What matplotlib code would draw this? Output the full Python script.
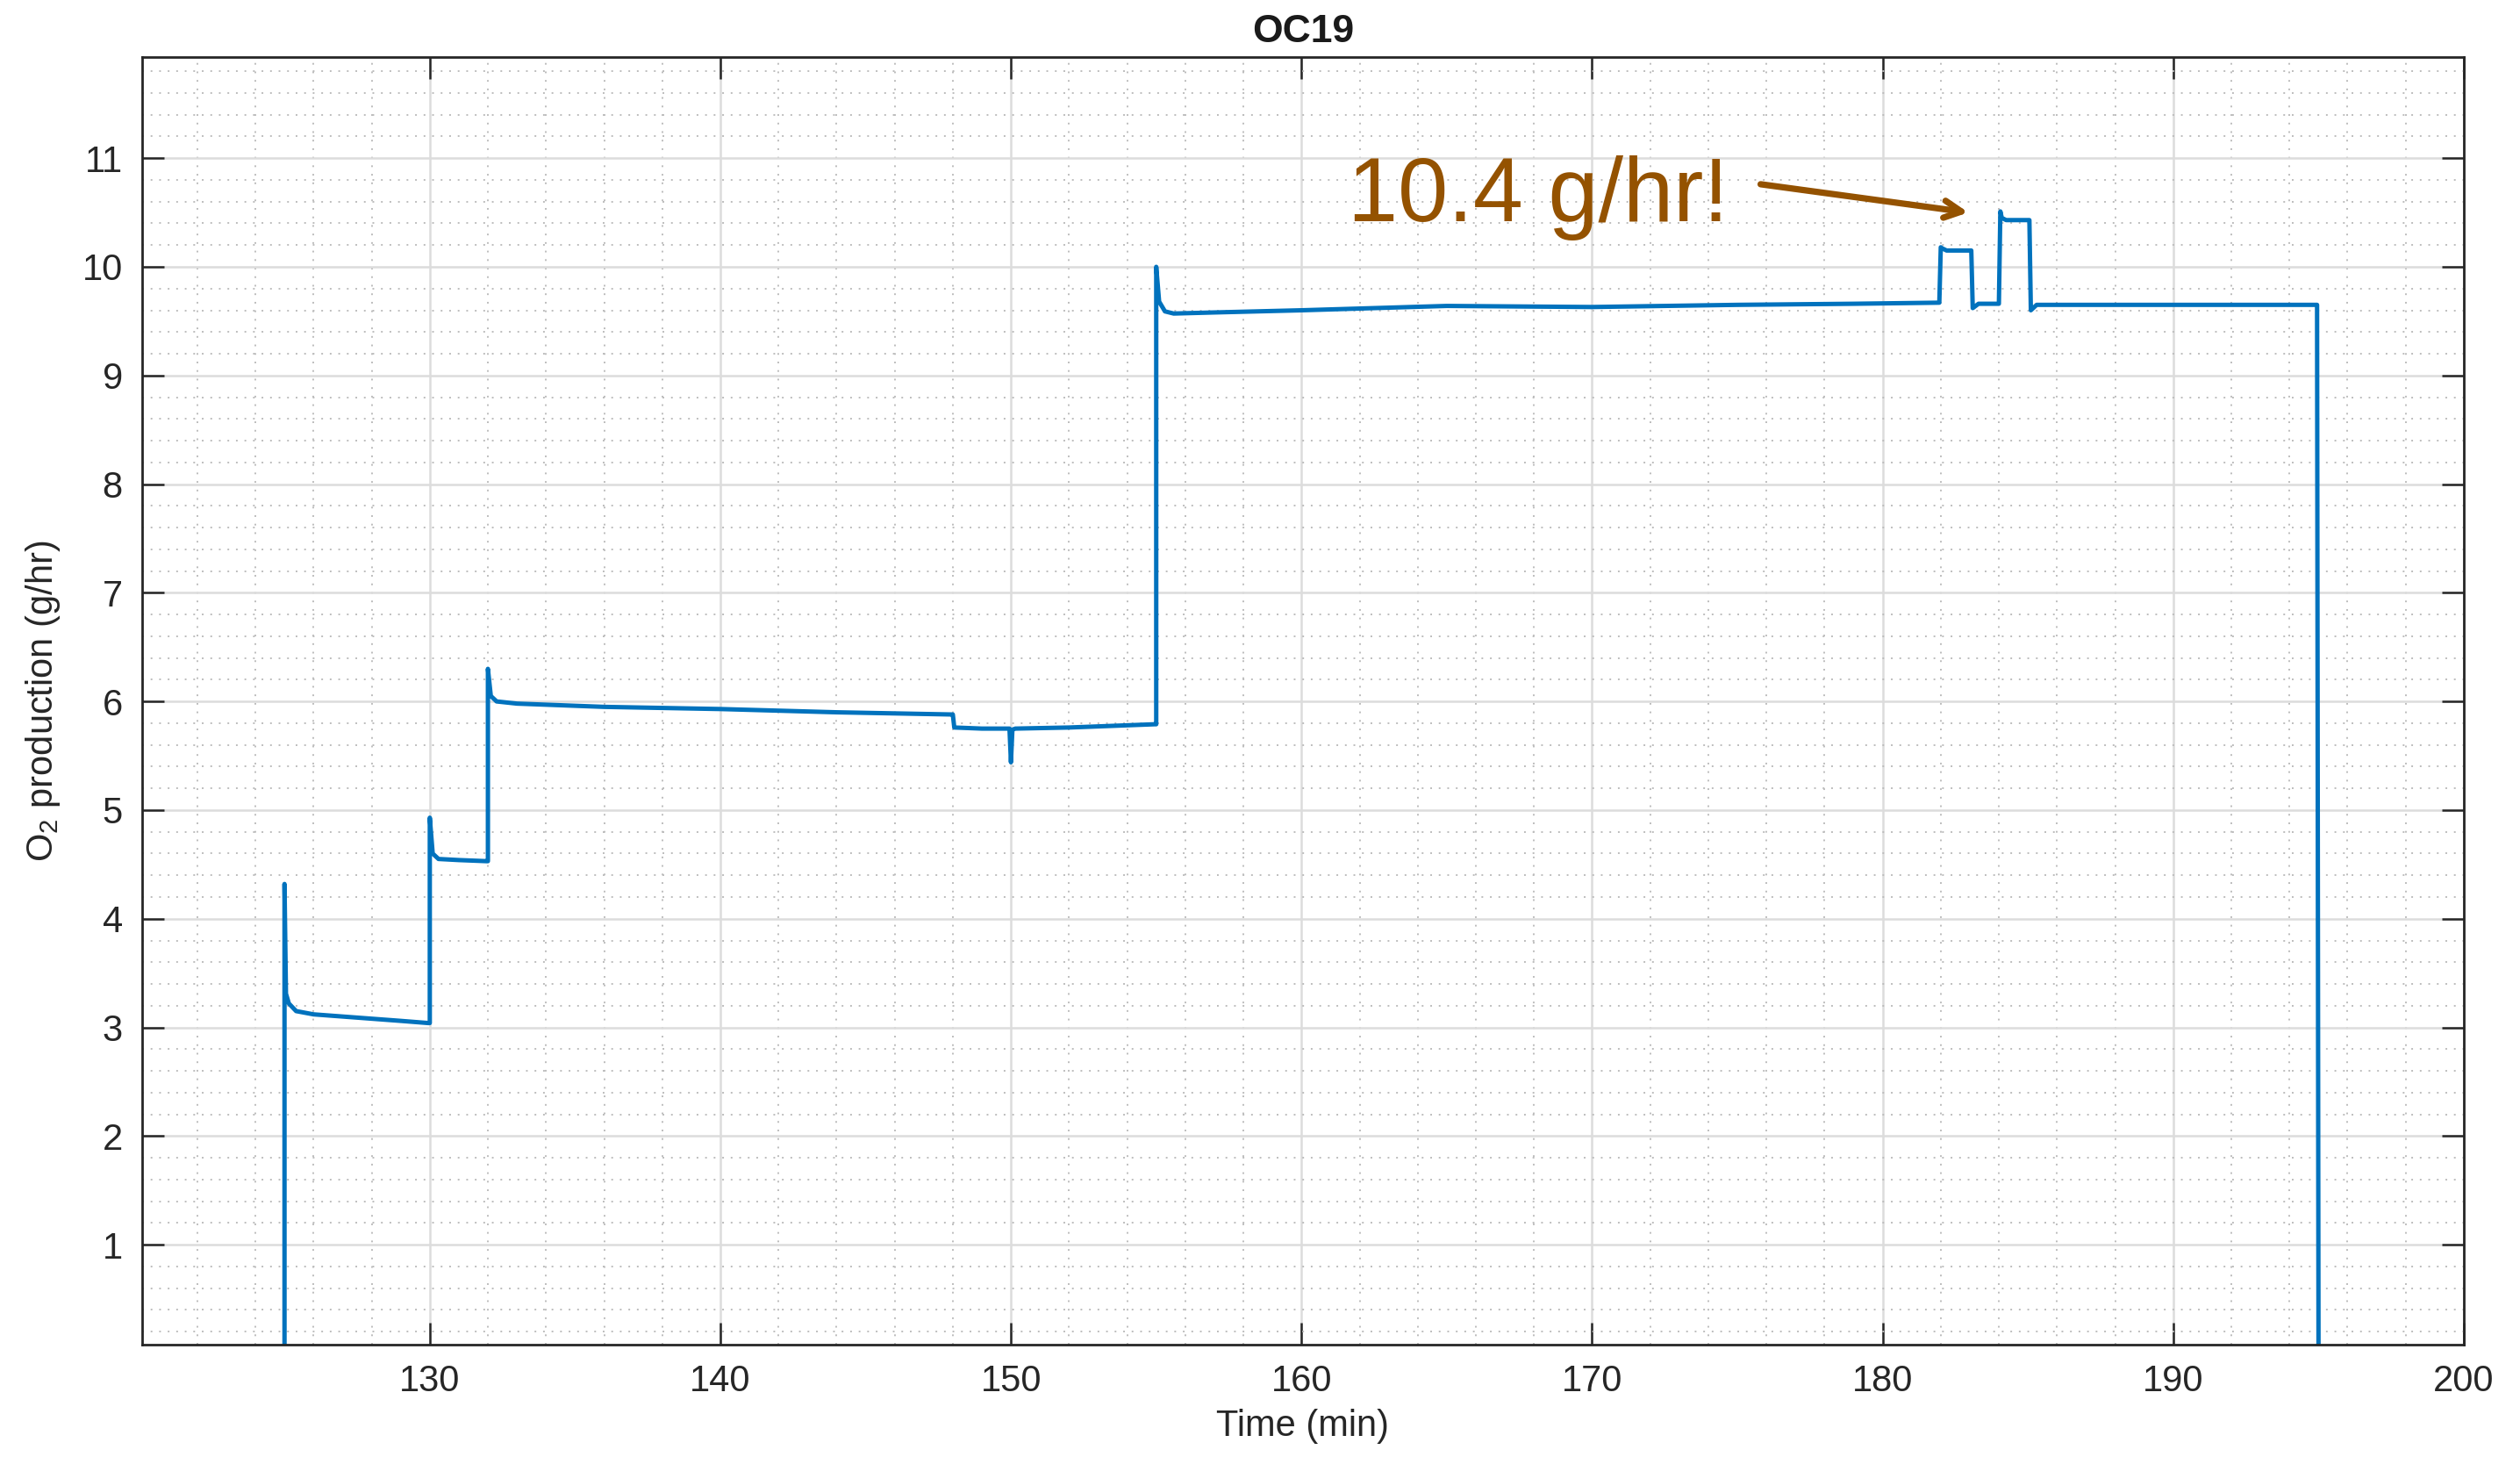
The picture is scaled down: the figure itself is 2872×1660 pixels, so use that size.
import matplotlib.pyplot as plt
from matplotlib.ticker import MultipleLocator

plt.rcParams['font.family'] = ['Liberation Sans', 'DejaVu Sans']
plt.rcParams['mathtext.default'] = 'regular'

# O2 production trace (time in min, g/hr)
time_min = [125.0, 125.0, 125.05, 125.15, 125.4, 126.0, 127.5, 129.0, 129.95,
            130.0, 130.0, 130.1, 130.3, 131.0, 131.95,
            132.0, 132.0, 132.1, 132.3, 133.0, 136.0, 140.0, 144.0, 147.95,
            148.0, 148.05, 149.0, 149.95, 150.0, 150.05, 150.15, 152.0, 154.95,
            155.0, 155.0, 155.1, 155.3, 155.6, 157.0, 160.0, 165.0, 170.0,
            175.0, 179.0, 181.95,
            182.0, 182.05, 182.2, 183.05, 183.1, 183.3, 184.0,
            184.05, 184.1, 184.25, 185.05, 185.1, 185.3, 186.0, 190.0, 194.95,
            195.0]
o2_rate = [0.0, 4.32, 3.31, 3.22, 3.15, 3.12, 3.09, 3.06, 3.04,
           3.04, 4.93, 4.60, 4.55, 4.54, 4.53,
           4.53, 6.30, 6.05, 6.00, 5.98, 5.95, 5.93, 5.90, 5.88,
           5.88, 5.76, 5.75, 5.75, 5.44, 5.74, 5.75, 5.76, 5.79,
           5.79, 10.0, 9.68, 9.59, 9.57, 9.58, 9.60, 9.64, 9.63,
           9.65, 9.66, 9.67,
           10.18, 10.17, 10.15, 10.15, 9.62, 9.66, 9.66,
           10.51, 10.45, 10.43, 10.43, 9.60, 9.65, 9.65, 9.65, 9.65,
           0.0]

xticks = [130, 140, 150, 160, 170, 180, 190, 200]
yticks = [1, 2, 3, 4, 5, 6, 7, 8, 9, 10, 11]

note_text = '10.4 g/hr!'
note_xy = (161.6, 10.42)
arrow_tail = (175.8, 10.76)
arrow_head = (182.95, 10.50)

fig = plt.figure(figsize=(14.36, 8.3), dpi=200)
ax = fig.add_axes([0.0564, 0.0771, 0.9213, 0.8837])

ax.plot(time_min, o2_rate, color='#0072BD', lw=1.8)

ax.set_xlim(120.1, 200)
ax.set_ylim(0.08, 11.93)
ax.set_xticks(xticks)
ax.set_yticks(yticks)
ax.xaxis.set_minor_locator(MultipleLocator(2))
ax.yaxis.set_minor_locator(MultipleLocator(0.2))

ax.grid(True, which='major', color='#dcdcdc', lw=0.9, ls='-')
ax.grid(True, which='minor', color='#bdbdbd', lw=0.7, ls=(0, (1, 4)))
ax.set_axisbelow(True)

ax.tick_params(which='major', direction='in', top=True, right=True,
               length=9, width=0.9, labelsize=15, colors='#262626', pad=8)
ax.tick_params(which='minor', length=0)
for s in ax.spines.values():
    s.set_color('#262626')
    s.set_linewidth(1.0)

ax.set_title('OC19', fontsize=16, fontweight='bold', color='#1a1a1a', pad=6)
ax.set_xlabel('Time (min)', fontsize=15, color='#262626', labelpad=4)
ax.set_ylabel('O$_2$ production (g/hr)', fontsize=15, color='#262626', labelpad=8)

brown = '#945200'
ax.text(note_xy[0], note_xy[1], note_text, fontsize=37, color=brown,
        ha='left', va='baseline')
ax.annotate('', xy=arrow_head, xytext=arrow_tail,
            arrowprops=dict(arrowstyle='->,head_length=0.7,head_width=0.35',
                            color=brown, lw=2.6, shrinkA=0, shrinkB=0))

fig.savefig('out.png', dpi=200)
